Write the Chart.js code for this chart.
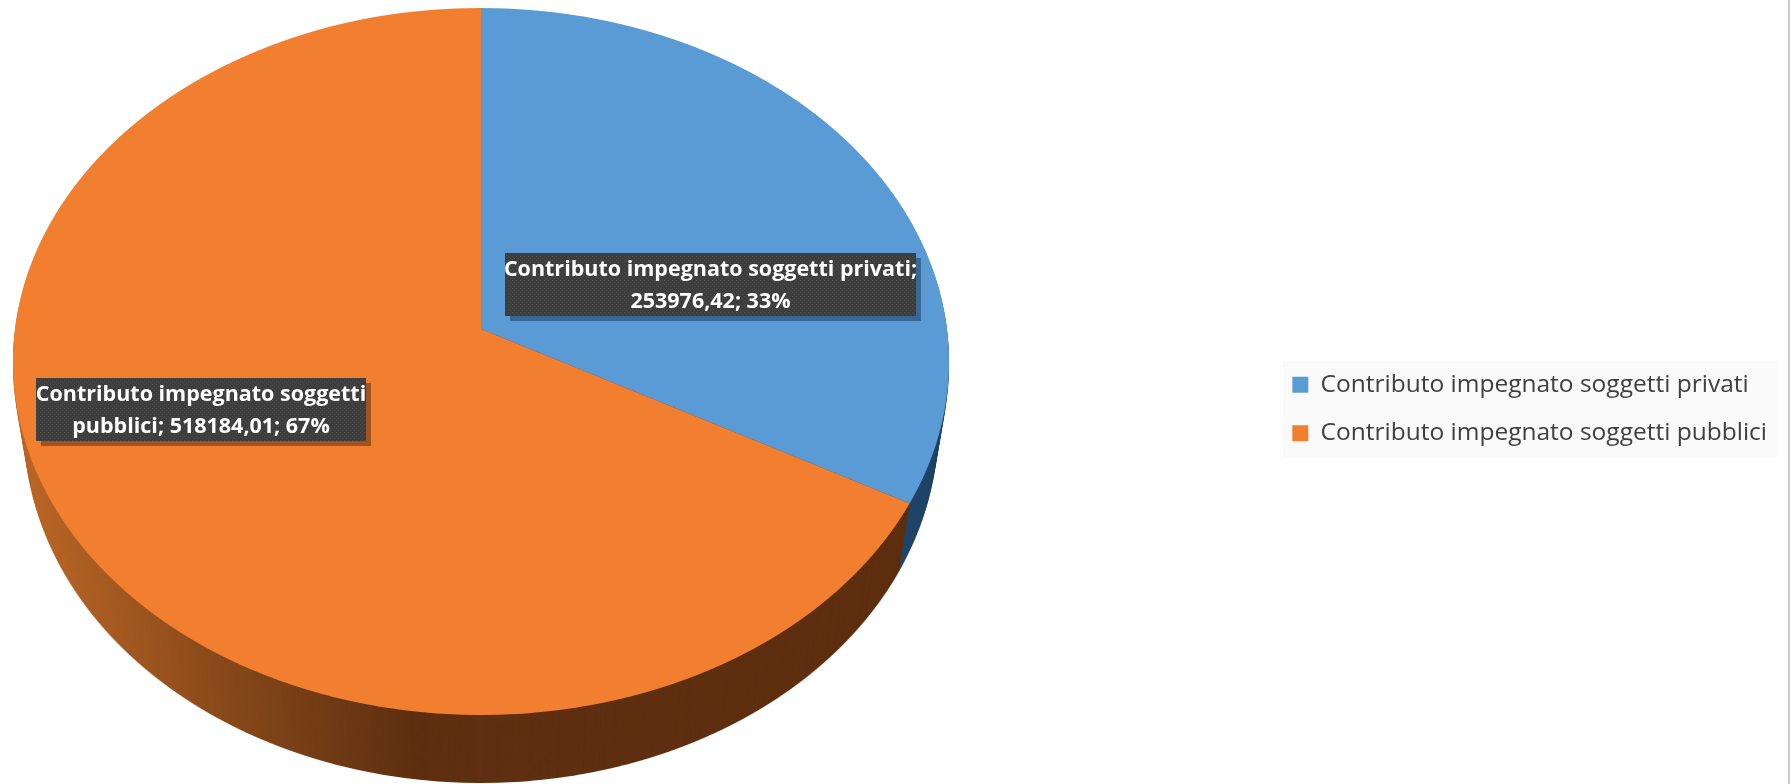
<!DOCTYPE html>
<html>
<head>
<meta charset="utf-8">
<style>
	html, body { margin: 0; padding: 0; background: #fff; }
	#wrap { position: relative; width: 1792px; height: 784px; overflow: hidden; }
	#edge { position: absolute; left: 1788px; top: 0; width: 2px; height: 784px; background: #cbcbcb; }
</style>
<script src="https://cdn.jsdelivr.net/npm/chart.js@4"></script>
</head>
<body>
<div id="wrap">
	<canvas id="pieChart" width="1792" height="784"></canvas>
	<div id="edge"></div>
</div>
<script>
var categories = ['Contributo impegnato soggetti privati', 'Contributo impegnato soggetti pubblici'];
var values = [253976.42, 518184.01];
var percents = [33, 67];

var sliceColors = ['#5B9BD5', '#F27E30'];
var sideColors = ['#23476A', '#5F3011'];

// how the flat pie lies on the page: a circle seen in perspective
var plane = { x: 481, y: 329, rx: 466, b: 350.5, c: -0.0919, top: 8, bottom: 716, depth: 68, shrink: 0.025 };
var labelBoxes = [
	{ x: 505, y: 253, w: 411, h: 63, maxWidth: 420, shadow: 'rgba(38,72,110,0.62)' },
	{ x: 36, y: 378, w: 330, h: 63, maxWidth: 336, shadow: 'rgba(110,56,20,0.62)' }
];
var legendBox = { x: 1283, y: 361, w: 494, h: 96 };

// draw the chart's own arcs strip by strip, each strip with its own scale
function drawArcs(ctx, arcs, colors) {
	for (var y = plane.top; y < plane.bottom; y += 2) {
		var ym = y + 1;
		var d = ym - plane.y;
		var v = d / (plane.b - plane.c * d);
		var w = 1 + plane.c * v;
		arcs.forEach(function (arc, i) {
			var r = arc.outerRadius;
			var sx = plane.rx / w / r;
			var sy = plane.b / (w * w) / r;
			ctx.save();
			ctx.beginPath();
			ctx.rect(0, y, ctx.canvas.width, 2);
			ctx.clip();
			ctx.setTransform(sx, 0, 0, sy, plane.x - arc.x * sx, ym - (arc.y + v * r) * sy);
			var old = arc.options;
			if (colors) {
				arc.options = Object.assign({}, old, { backgroundColor: colors[i] });
			}
			arc.draw(ctx);
			arc.options = old;
			ctx.restore();
		});
	}
}

var pie3d = {
	id: 'pie3d',
	beforeDraw: function (chart) {
		var ctx = chart.ctx;
		ctx.save();
		ctx.fillStyle = '#FAFAFA';
		ctx.fillRect(legendBox.x, legendBox.y, legendBox.w, legendBox.h);
		ctx.restore();
	},
	beforeDatasetsDraw: function (chart) {
		var ctx = chart.ctx;
		var arcs = chart.getDatasetMeta(0).data;

		// side of the pie, the lower rim is a little narrower than the top one
		var off = document.createElement('canvas');
		off.width = chart.width;
		off.height = chart.height;
		var offCtx = off.getContext('2d');
		drawArcs(offCtx, arcs, sideColors);
		offCtx.globalCompositeOperation = 'source-atop';
		var grad = offCtx.createLinearGradient(20, 0, 410, 0);
		grad.addColorStop(0, '#BC6828');
		grad.addColorStop(0.55, '#85481A');
		grad.addColorStop(1, '#5F3011');
		offCtx.fillStyle = grad;
		offCtx.fillRect(0, 0, 410, chart.height);
		for (var d = plane.depth; d >= 1; d--) {
			var s = 1 - plane.shrink * d / plane.depth;
			ctx.drawImage(off, plane.x * (1 - s), d, off.width * s, off.height);
		}

		drawArcs(ctx, arcs);
		return false;
	},
	afterDraw: function (chart) {
		var ctx = chart.ctx;
		var tile = document.createElement('canvas');
		tile.width = tile.height = 4;
		var t = tile.getContext('2d');
		t.fillStyle = '#3D3D3D';
		t.fillRect(0, 0, 4, 4);
		t.fillStyle = '#4C4C4C';
		t.fillRect(0, 0, 1, 1);
		t.fillRect(2, 2, 1, 1);
		var pattern = ctx.createPattern(tile, 'repeat');

		ctx.save();
		ctx.font = 'bold 21.5px "Open Sans"';
		ctx.textAlign = 'center';
		ctx.textBaseline = 'middle';
		labelBoxes.forEach(function (box, i) {
			var text = categories[i] + '; ' + values[i].toFixed(2).replace('.', ',') + '; ' + percents[i] + '%';
			var lines = [];
			var line = '';
			text.split(' ').forEach(function (word) {
				var next = line ? line + ' ' + word : word;
				if (ctx.measureText(next).width > box.maxWidth) {
					lines.push(line);
					line = word;
				} else {
					line = next;
				}
			});
			lines.push(line);

			ctx.fillStyle = box.shadow;
			ctx.fillRect(box.x + 5, box.y + 5, box.w, box.h);
			ctx.fillStyle = pattern;
			ctx.fillRect(box.x, box.y, box.w, box.h);
			ctx.fillStyle = '#fff';
			lines.forEach(function (l, n) {
				ctx.fillText(l, box.x + box.w / 2, box.y + 17 + n * 32);
			});
		});
		ctx.restore();
	}
};

var myChart = new Chart(document.getElementById('pieChart').getContext('2d'), {
	type: 'pie',
	data: {
		labels: categories,
		datasets: [{
			data: values,
			backgroundColor: sliceColors,
			borderWidth: 0
		}]
	},
	options: {
		responsive: false,
		animation: false,
		devicePixelRatio: 1,
		layout: { padding: { top: 34, right: 15 } },
		plugins: {
			tooltip: { enabled: false },
			legend: {
				position: 'right',
				labels: {
					boxWidth: 16,
					boxHeight: 16,
					padding: 24,
					color: '#404040',
					font: { family: '"Open Sans"', size: 24.5 }
				}
			}
		}
	},
	plugins: [pie3d]
});
</script>
</body>
</html>
